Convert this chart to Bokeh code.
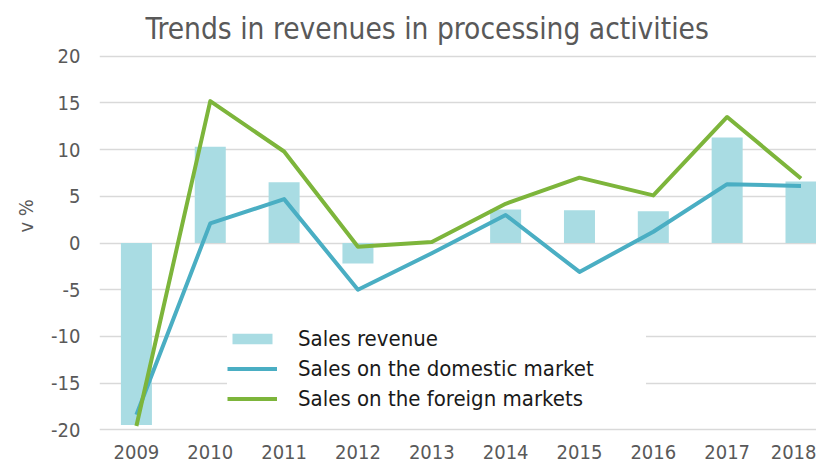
from bokeh.plotting import figure
from bokeh.models import Range1d, Legend, LegendItem, Title, FixedTicker, ColumnDataSource
from bokeh.embed import file_html
from bokeh.resources import INLINE

years = [2009, 2010, 2011, 2012, 2013, 2014, 2015, 2016, 2017, 2018]
sales_revenue = [-19.5, 10.3, 6.5, -2.2, 0.0, 3.6, 3.5, 3.4, 11.3, 6.6]
domestic = [-18.4, 2.1, 4.7, -5.0, -1.1, 3.0, -3.1, 1.2, 6.3, 6.1]
foreign = [-19.6, 15.2, 9.8, -0.4, 0.1, 4.2, 7.0, 5.1, 13.5, 6.9]
y_ticks = [-20, -15, -10, -5, 0, 5, 10, 15, 20]

FONT = "DejaVu Sans Condensed"
BAR_C = "#a9dce3"
BLUE = "#4aaec3"
GREEN = "#7db53b"
GRID = "#d9d9d9"
TXT = "#595959"

src = ColumnDataSource(dict(year=years, rev=sales_revenue, dom=domestic, forn=foreign))

p = figure(width=816, height=466, output_backend="svg", toolbar_location=None,
           x_range=Range1d(2008.5, 2018.21), y_range=Range1d(-20.3, 20.3),
           min_border_left=99, min_border_right=0, min_border_top=53, min_border_bottom=34)
p.outline_line_color = None
p.background_fill_color = "white"
p.border_fill_color = "white"

r_bar = p.vbar(x="year", top="rev", bottom=0, width=0.42, source=src,
               fill_color=BAR_C, line_color=None)
r_dom = p.line(x="year", y="dom", source=src, line_color=BLUE, line_width=4, line_join="round")
r_for = p.line(x="year", y="forn", source=src, line_color=GREEN, line_width=4, line_join="round")

p.xgrid.grid_line_color = None
p.ygrid.grid_line_color = GRID
p.ygrid.grid_line_width = 1.5
p.yaxis.ticker = FixedTicker(ticks=y_ticks)
p.yaxis.major_label_overrides = {t: str(t) for t in y_ticks}
p.xaxis.ticker = FixedTicker(ticks=years)
for ax in (p.xaxis, p.yaxis):
    ax.axis_line_color = None
    ax.major_tick_line_color = None
    ax.minor_tick_line_color = None
    ax.major_tick_out = 0
    ax.major_tick_in = 0
    ax.major_label_text_font = FONT
    ax.major_label_text_font_size = "20px"
    ax.major_label_text_color = TXT
p.yaxis.major_label_standoff = 19
p.xaxis.major_label_standoff = 12

legend = Legend(items=[
    LegendItem(label="Sales revenue", renderers=[r_bar]),
    LegendItem(label="Sales on the domestic market", renderers=[r_dom]),
    LegendItem(label="Sales on the foreign markets", renderers=[r_for]),
], location=(128, 19))
legend.label_text_font = FONT
legend.label_text_font_size = "22px"
legend.label_text_color = "#1a1a1a"
legend.glyph_width = 50
legend.glyph_height = 13
legend.label_height = 30
legend.spacing = 0
legend.label_standoff = 21
legend.label_width = 348
legend.padding = 4
legend.margin = 0
legend.border_line_color = None
legend.background_fill_color = "white"
legend.background_fill_alpha = 1
p.add_layout(legend, "center")

p.title.text = "Trends in revenues in processing activities"
p.title.align = "left"
p.title.offset = 46
p.title.standoff = 16
p.title.text_font = FONT
p.title.text_font_size = "29.6px"
p.title.text_font_style = "normal"
p.title.text_color = TXT

ylab = Title(text="v %", align="left", offset=200, standoff=22,
             text_font=FONT, text_font_size="20px", text_font_style="normal",
             text_color=TXT)
p.add_layout(ylab, "left")

open("out.html", "w").write(file_html(p, INLINE))
